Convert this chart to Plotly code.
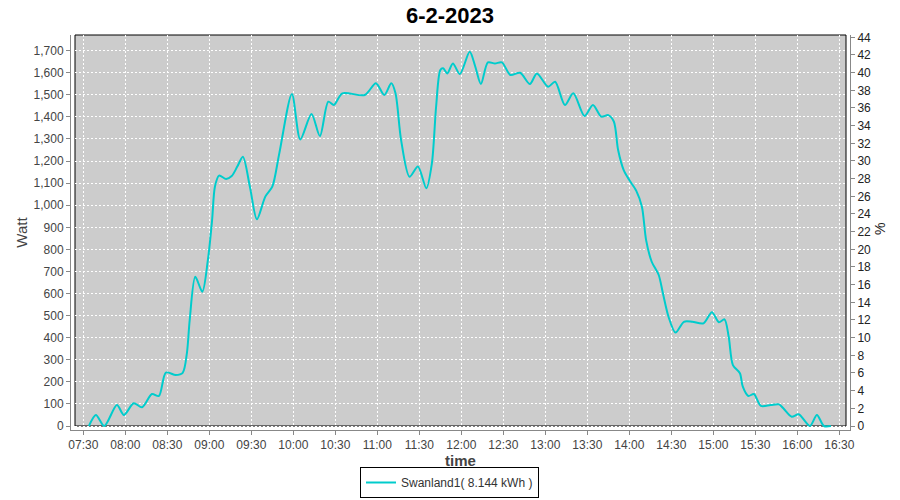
import plotly.graph_objects as go

DAY = "2023-02-06 "

times = ["07:34", "07:39", "07:45", "07:54", "07:59", "08:06", "08:12", "08:19", "08:24", "08:29",
         "08:36", "08:41", "08:44", "08:46", "08:50", "08:55", "08:59", "09:02", "09:04", "09:07",
         "09:12", "09:16", "09:20", "09:24", "09:29", "09:34", "09:40", "09:45", "09:50", "09:59",
         "10:05", "10:13", "10:19", "10:25", "10:29", "10:35", "10:51", "10:59", "11:05", "11:10",
         "11:13", "11:17", "11:23", "11:29", "11:35", "11:39", "11:42", "11:45", "11:47", "11:50",
         "11:54", "11:59", "12:06", "12:10", "12:14", "12:19", "12:24", "12:29", "12:35", "12:42",
         "12:49", "12:54", "13:02", "13:07", "13:14", "13:20", "13:28", "13:34", "13:40", "13:45",
         "13:49", "13:52", "13:56", "14:00", "14:05", "14:09", "14:12", "14:16", "14:21", "14:24",
         "14:28", "14:33", "14:39", "14:45", "14:53", "14:59", "15:04", "15:08", "15:11", "15:14",
         "15:19", "15:21", "15:25", "15:29", "15:34", "15:41", "15:47", "15:50", "15:56", "16:01",
         "16:09", "16:14", "16:19", "16:24"]

watt = [0, 50, 0, 95, 50, 103, 85, 145, 136, 242,
        231, 241, 330, 480, 676, 608, 752, 933, 1084, 1134,
        1119, 1132, 1175, 1220, 1084, 936, 1039, 1084, 1235, 1504,
        1298, 1413, 1313, 1469, 1454, 1507, 1499, 1552, 1499, 1552,
        1507, 1295, 1129, 1175, 1077, 1190, 1446, 1612, 1620, 1597,
        1642, 1594, 1695, 1627, 1549, 1647, 1642, 1647, 1590, 1600,
        1549, 1597, 1537, 1559, 1454, 1507, 1404, 1454, 1401, 1408,
        1378, 1250, 1159, 1114, 1065, 993, 842, 744, 684, 601,
        495, 423, 472, 472, 465, 515, 470, 483, 404, 276,
        239, 179, 136, 145, 91, 95, 98, 80, 42, 53,
        0, 50, 0, 0]

series_name = "Swanland1( 8.144 kWh )"
title_text = "6-2-2023"

x = [DAY + t for t in times]

fig = go.Figure()
fig.add_trace(go.Scatter(
    x=x, y=watt, mode="lines", name=series_name,
    line=dict(color="#00CCCC", width=2, shape="spline", smoothing=0.8),
))
# helper trace to bind the right (%) axis
fig.add_trace(go.Scatter(x=[x[0]], y=[0], yaxis="y2", mode="lines",
                         line=dict(width=0), showlegend=False, hoverinfo="skip"))

W, H = 900, 500
L, R, T, B = 71, 850, 35, 430
pw, ph = R - L, B - T

fig.update_layout(
    width=W, height=H,
    margin=dict(l=L, r=W - R, t=T, b=H - B, pad=0, autoexpand=False),
    paper_bgcolor="white", plot_bgcolor="white",
    font=dict(family="Liberation Sans, Arial, sans-serif", size=12, color="#444444"),
    title=dict(text="<b>" + title_text + "</b>", x=0.5, xanchor="center",
               yref="container", y=1 - 15 / H, yanchor="middle",
               font=dict(size=22, color="black")),
    showlegend=True,
    legend=dict(x=(360 - L) / pw, xanchor="left", y=-(498 - B) / ph, yanchor="bottom",
                orientation="h",
                bordercolor="black", borderwidth=1, bgcolor="white",
                font=dict(size=12, color="#333333"), itemwidth=30),
    xaxis=dict(
        type="date", range=["2023-02-06 07:21:13", "2023-02-06 16:37:38"],
        tick0="2023-02-06 07:30", dtick=1800000, tickformat="%H:%M",
        showgrid=True, gridcolor="white", griddash="2px,2px", gridwidth=1,
        showline=True, linecolor="#888888", linewidth=1,
        ticks="outside", ticklen=4, tickcolor="#888888", automargin=False,
        zeroline=False, tickfont=dict(size=12, color="#444444"),
        title=dict(text="<b>time</b>", font=dict(size=15, color="#444444"), standoff=4),
    ),
    yaxis=dict(
        range=[-18.1, 1771], dtick=100, tick0=0, tickformat=",d",
        showgrid=True, gridcolor="white", griddash="2px,2px", gridwidth=1,
        showline=True, linecolor="#888888", linewidth=1, automargin=False,
        ticks="outside", ticklen=4, tickcolor="#888888",
        zeroline=False, tickfont=dict(size=12, color="#444444"),
        title=dict(text="Watt", font=dict(size=15, color="#444444"), standoff=2),
    ),
    yaxis2=dict(
        overlaying="y", side="right", range=[-0.453, 44.26], dtick=2, tick0=0,
        showgrid=False, zeroline=False, automargin=False,
        showline=True, linecolor="#888888", linewidth=1,
        ticks="outside", ticklen=4, tickcolor="#888888",
        tickfont=dict(size=12, color="#222222"),
    ),
)

fig.add_annotation(text="%", xref="paper", yref="paper", x=(880 - L) / pw, y=(B - 229) / ph,
                   textangle=-90, showarrow=False, font=dict(size=14, color="#222222"),
                   xanchor="center", yanchor="middle")

# gray plot background (inside the axis lines) and black frame
fig.add_shape(type="rect", xref="paper", yref="paper",
              x0=4 / pw, x1=(846 - L) / pw, y0=4 / ph, y1=1,
              fillcolor="#CCCCCC", line=dict(width=0), layer="below")
fig.add_shape(type="rect", xref="paper", yref="paper",
              x0=4 / pw, x1=(846 - L) / pw, y0=4 / ph, y1=1,
              fillcolor="rgba(0,0,0,0)", line=dict(color="black", width=1), layer="between")

fig.write_html("out.html", config={"displayModeBar": False},
               post_script="document.body.style.margin='0';")
